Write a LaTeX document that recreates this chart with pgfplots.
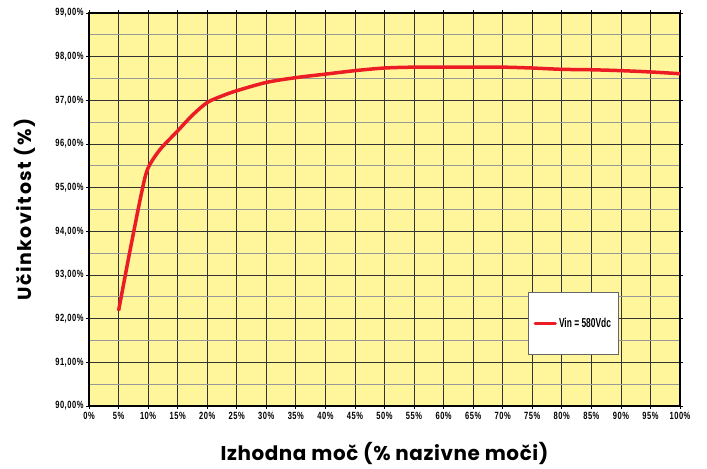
\documentclass[border=0pt]{standalone}
\usepackage{pgfplots}
\pgfplotsset{compat=1.18}
\usepackage{fontspec}
\setmainfont{Liberation Sans}
\newfontfamily\condfont[FakeStretch=0.72, LetterSpace=5]{Liberation Sans}
\newfontfamily\legfont[FakeStretch=0.65]{Liberation Sans}
\newfontfamily\labfont[LetterSpace=3]{Poppins}
\newfontfamily\ylabfont[LetterSpace=8]{Poppins}
\definecolor{plotyellow}{RGB}{255,245,155}
\definecolor{curvered}{RGB}{236,28,36}
\begin{document}
\begin{tikzpicture}
\begin{axis}[
  name=ax,
  scale only axis,
  width=591bp, height=393bp,
  xmin=0, xmax=100, ymin=90, ymax=99,
  axis background/.style={fill=plotyellow},
  axis line style={line width=1.8bp, black},
  xtick={0,5,...,100},
  ytick={90,91,...,99},
  minor ytick={90.5,91.5,...,98.5},
  xticklabels={0\%,5\%,10\%,15\%,20\%,25\%,30\%,35\%,40\%,45\%,50\%,55\%,60\%,65\%,70\%,75\%,80\%,85\%,90\%,95\%,100\%},
  yticklabels={{90,00\%},{91,00\%},{92,00\%},{93,00\%},{94,00\%},{95,00\%},{96,00\%},{97,00\%},{98,00\%},{99,00\%}},
  tick label style={font=\condfont\bfseries\fontsize{10.5}{11}\selectfont},
  yticklabel style={xshift=1bp},
  xtick align=outside, ytick align=outside,
  major tick length=3bp,
  tick style={black, line width=0.8bp},
  minor tick length=0pt,
  grid=both,
  major grid style={black!80, line width=0.8bp},
  minor grid style={black!40, line width=0.8bp},
  xlabel={\labfont\bfseries\fontsize{20}{22}\selectfont Izhodna moč (\% nazivne moči)},
  ylabel={\ylabfont\bfseries\fontsize{19}{21}\selectfont Učinkovitost (\%)},
  xlabel style={at={(axis description cs:0.5,0)}, anchor=base, yshift=-55bp},
  ylabel style={at={(axis description cs:0,0.5)}, anchor=base, yshift=57bp},
  legend style={at={(axis cs:74.3,92.62)}, anchor=north west, draw=black!60, line width=0.8bp, fill=white,
    inner xsep=5bp, inner ysep=24bp, font=\legfont\bfseries\fontsize{13}{14}\selectfont},
  legend image code/.code={\draw[line width=3.5bp, curvered, line cap=round] (0bp,0bp) -- (20bp,0bp);},
  legend cell align=left,
]
\addplot[curvered, line width=3.5bp, smooth, tension=0.5] coordinates {
(5,92.18) (7,93.6) (9,94.95) (10,95.45) (12,95.87) (15,96.3) (17.5,96.66) (20,96.95) (22.5,97.1) (25,97.22)
(30,97.41) (35,97.52) (40,97.6) (45,97.68) (50,97.74) (55,97.76) (60,97.76) (65,97.76) (70,97.76)
(75,97.74) (80,97.71) (85,97.7) (90,97.68) (95,97.65) (100,97.61)
};
\addlegendentry{Vin = 580Vdc}
\end{axis}
\path ([xshift=-89bp,yshift=-61bp]ax.south west) rectangle ([xshift=27bp,yshift=13bp]ax.north east);
\end{tikzpicture}
\end{document}
